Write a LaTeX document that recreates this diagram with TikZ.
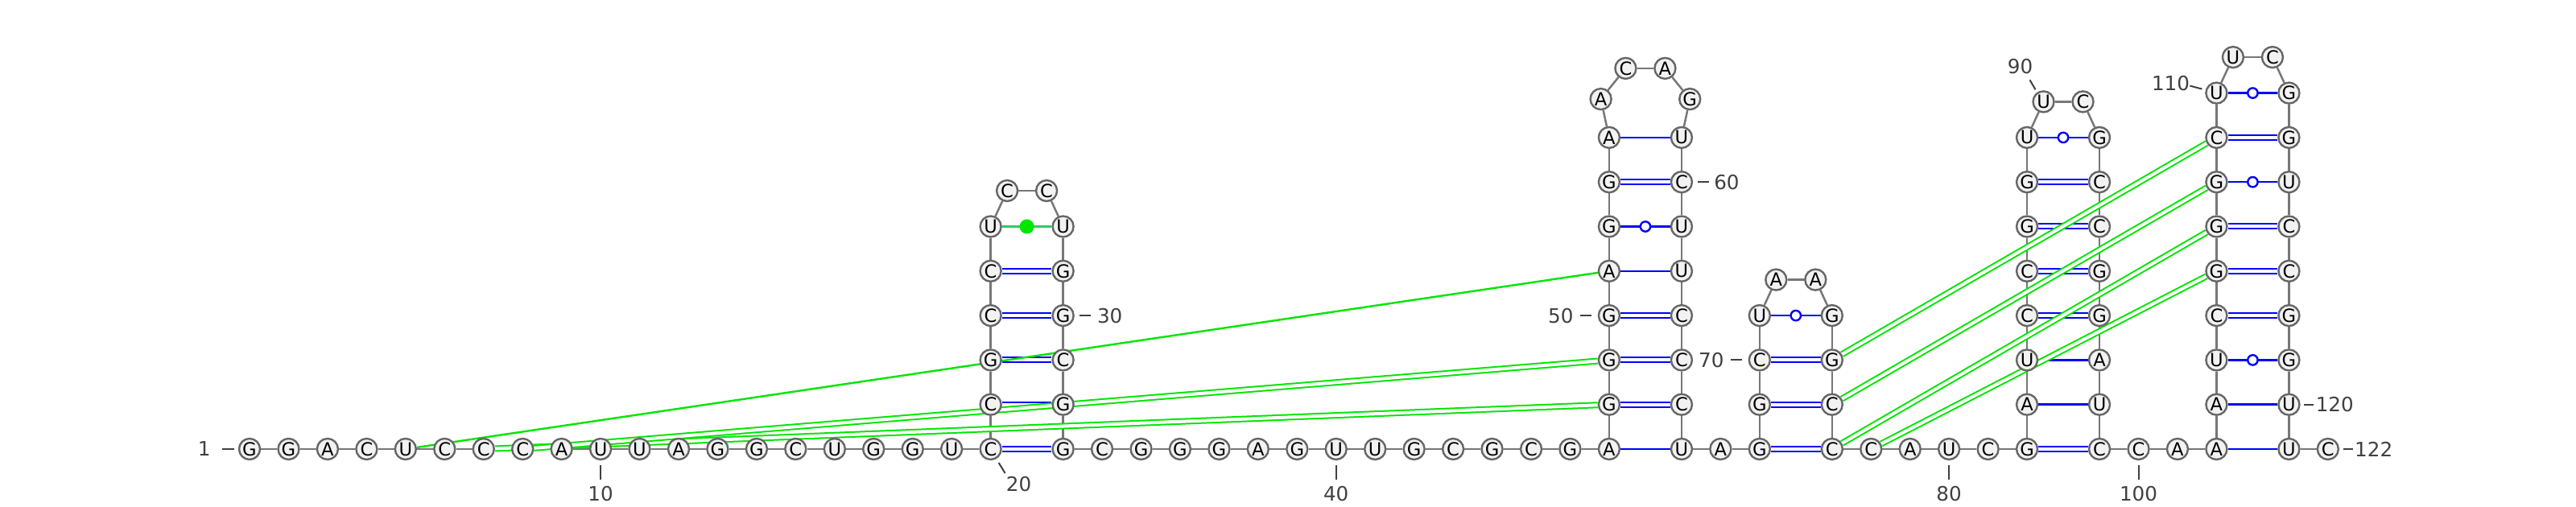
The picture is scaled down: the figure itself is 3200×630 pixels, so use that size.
\documentclass[tikz,border=0pt]{standalone}
\usepackage{fontspec}
\setmainfont{DejaVu Sans}
\usetikzlibrary{backgrounds,calc}
\definecolor{pblue}{RGB}{0,0,255}
\definecolor{pgreen}{RGB}{0,230,0}
\definecolor{uugreen}{RGB}{50,200,100}
\definecolor{ntline}{RGB}{102,102,102}
\definecolor{ntfill}{RGB}{242,242,242}
\definecolor{bbgray}{RGB}{119,119,119}
\definecolor{labgray}{RGB}{64,64,64}
\tikzset{
  nt/.style={circle, draw=ntline, fill=ntfill, line width=1.2pt, minimum size=13pt, inner sep=0pt,
    font=\fontsize{11.3}{12}\selectfont},
  bb/.style={draw=bbgray, line width=1.25pt},
  wc/.style={draw=pblue, line width=1pt, double=white, double distance=2pt},
  au/.style={draw=pblue, line width=1.25pt},
  gudot/.style={circle, draw=pblue, fill=white, line width=1.2pt, minimum size=6.2pt, inner sep=0pt},
  uuline/.style={draw=uugreen, line width=1.25pt},
  uudot/.style={circle, fill=pgreen, draw=none, minimum size=9pt, inner sep=0pt},
  pk/.style={draw=pgreen, line width=1pt, double=white, double distance=2pt},
  pkone/.style={draw=pgreen, line width=1.2pt},
  tk/.style={draw=labgray, line width=1pt},
  lab/.style={text=labgray, inner sep=0pt, font=\fontsize{12.3}{13}\selectfont}
}
\begin{document}
\begin{tikzpicture}[x=0.5pt,y=-0.5pt]
\useasboundingbox (0,0) rectangle (3200,630);
\foreach \n/\b/\x/\y in {
1/G/310/558, 2/G/358.5/558, 3/A/406.9/558, 4/C/455.4/558, 5/U/503.8/558, 6/C/552.3/558, 7/C/600.7/558, 8/C/649.2/558, 9/A/697.6/558, 10/U/746.1/558, 11/U/794.5/558, 12/A/843/558, 13/G/891.4/558, 14/G/939.9/558, 15/C/988.3/558, 16/U/1036.8/558, 17/G/1085.2/558, 18/G/1133.7/558, 19/U/1182.1/558, 20/C/1230.6/558,
21/C/1230.6/502.7, 22/G/1230.6/447.4, 23/C/1230.6/392.1, 24/C/1230.6/336.8, 25/U/1230.6/281.5, 26/C/1251.1/237, 27/C/1300.1/237, 28/U/1320.6/281.5, 29/G/1320.6/336.8, 30/G/1320.6/392.1, 31/C/1320.6/447.4, 32/G/1320.6/502.7, 33/G/1320.6/558,
34/C/1369/558, 35/G/1417.5/558, 36/G/1465.9/558, 37/G/1514.4/558, 38/A/1562.8/558, 39/G/1611.3/558, 40/U/1659.7/558, 41/U/1708.2/558, 42/G/1756.6/558, 43/C/1805.1/558, 44/G/1853.5/558, 45/C/1902/558, 46/G/1950.4/558, 47/A/1998.9/558,
48/G/1998.9/502.7, 49/G/1998.9/447.4, 50/G/1998.9/392.1, 51/A/1998.9/336.8, 52/G/1998.9/281.5, 53/G/1998.9/226.2, 54/A/1998.9/170.9, 55/A/1988.6/123.1, 56/C/2019.4/84.9, 57/A/2068.4/84.9, 58/G/2099.2/123.1, 59/U/2088.9/170.9, 60/C/2088.9/226.2, 61/U/2088.9/281.5, 62/U/2088.9/336.8, 63/C/2088.9/392.1, 64/C/2088.9/447.4, 65/C/2088.9/502.7, 66/U/2088.9/558,
67/A/2137.3/558, 68/G/2185.8/558, 69/G/2185.8/502.7, 70/C/2185.8/447.4, 71/U/2185.8/392.1, 72/A/2206.3/347.6, 73/A/2255.3/347.6, 74/G/2275.8/392.1, 75/G/2275.8/447.4, 76/C/2275.8/502.7, 77/C/2275.8/558,
78/C/2324.2/558, 79/A/2372.7/558, 80/U/2421.1/558, 81/C/2469.6/558, 82/G/2518/558,
83/A/2518/502.7, 84/U/2518/447.4, 85/C/2518/392.1, 86/C/2518/336.8, 87/G/2518/281.5, 88/G/2518/226.2, 89/U/2518/170.9, 90/U/2538.5/126.4, 91/C/2587.5/126.4, 92/G/2608/170.9, 93/C/2608/226.2, 94/C/2608/281.5, 95/G/2608/336.8, 96/G/2608/392.1, 97/A/2608/447.4, 98/U/2608/502.7, 99/C/2608/558,
100/C/2656.5/558, 101/A/2704.9/558, 102/A/2753.4/558,
103/A/2753.4/502.7, 104/U/2753.4/447.4, 105/C/2753.4/392.1, 106/G/2753.4/336.8, 107/G/2753.4/281.5, 108/G/2753.4/226.2, 109/C/2753.4/170.9, 110/U/2753.4/115.6, 111/U/2773.9/71.1, 112/C/2822.9/71.1, 113/G/2843.4/115.6, 114/G/2843.4/170.9, 115/U/2843.4/226.2, 116/C/2843.4/281.5, 117/C/2843.4/336.8, 118/G/2843.4/392.1, 119/G/2843.4/447.4, 120/U/2843.4/502.7, 121/U/2843.4/558, 122/C/2891.8/558}
  {\node[nt] (n\n) at (\x,\y) {\b};}

% position labels and ticks
\node[lab, anchor=east] (lab1) at ($(n1)+(-48,0)$) {1};
\draw[tk] ($(n1)+(-34,0)$) -- ($(n1)+(-19,0)$);
\foreach \k in {10,40,80,100} {
  \node[lab, anchor=north] (lab\k) at ($(n\k)+(0,46)$) {\k};
  \draw[tk] ($(n\k)+(0,20)$) -- ($(n\k)+(0,38)$);
}
\node[lab] (lab20) at ($(n20)+(35,44)$) {20};
\draw[tk] ($(n20)+(10,17)$) -- ($(n20)+(18,30)$);
\node[lab, anchor=west] (lab30) at ($(n30)+(42,0)$) {30};
\draw[tk] ($(n30)+(20,0)$) -- ($(n30)+(34,0)$);
\node[lab, anchor=west] (lab60) at ($(n60)+(40,0)$) {60};
\draw[tk] ($(n60)+(20,0)$) -- ($(n60)+(34,0)$);
\node[lab, anchor=east] (lab50) at ($(n50)+(-44,0)$) {50};
\draw[tk] ($(n50)+(-36,0)$) -- ($(n50)+(-22,0)$);
\node[lab, anchor=east] (lab70) at ($(n70)+(-44,0)$) {70};
\draw[tk] ($(n70)+(-36,0)$) -- ($(n70)+(-22,0)$);
\node[lab] (lab90) at ($(n90)+(-29,-44)$) {90};
\draw[tk] ($(n90)+(-10,-15)$) -- ($(n90)+(-17,-27)$);
\node[lab, anchor=east] (lab110) at ($(n110)+(-33,-12)$) {110};
\draw[tk] ($(n110)+(-33,-9)$) -- ($(n110)+(-18,-5)$);
\node[lab, anchor=west] (lab120) at ($(n120)+(33,0)$) {120};
\draw[tk] ($(n120)+(19,0)$) -- ($(n120)+(31,0)$);
\node[lab, anchor=west] (lab122) at ($(n122)+(33,0)$) {122};
\draw[tk] ($(n122)+(19,0)$) -- ($(n122)+(31,0)$);

\begin{pgfonlayer}{background}
  % backbone
  \foreach \i [evaluate=\i as \j using int(\i+1)] in {1,...,121}
    {\draw[bb] (n\i) -- (n\j);}
  % Watson-Crick GC pairs
  \foreach \a/\b in {20/33,21/32,22/31,23/30,24/29,48/65,49/64,50/63,53/60,68/77,69/76,70/75,82/99,85/96,86/95,87/94,88/93,105/118,106/117,107/116,109/114}
    {\draw[wc] (n\a) -- (n\b);}
  % AU pairs
  \foreach \a/\b in {47/66,51/62,54/59,83/98,84/97,102/121,103/120}
    {\draw[au] (n\a) -- (n\b);}
  % GU wobble pairs
  \foreach \a/\b in {52/61,71/74,89/92,104/119,108/115,110/113}
    {\draw[au] (n\a) -- node[gudot] (gu\a) {} (n\b);}
  % non-canonical UU
  \draw[uuline] (n25) -- node[uudot] (uu25) {} (n28);
  % pseudoknot / tertiary
  \foreach \a/\b in {7/48,8/49,75/109,76/108,77/107,78/106}
    {\draw[pk] (n\a) -- (n\b);}
  \draw[pkone] (n5) -- (n51);
\end{pgfonlayer}
\end{tikzpicture}
\end{document}
